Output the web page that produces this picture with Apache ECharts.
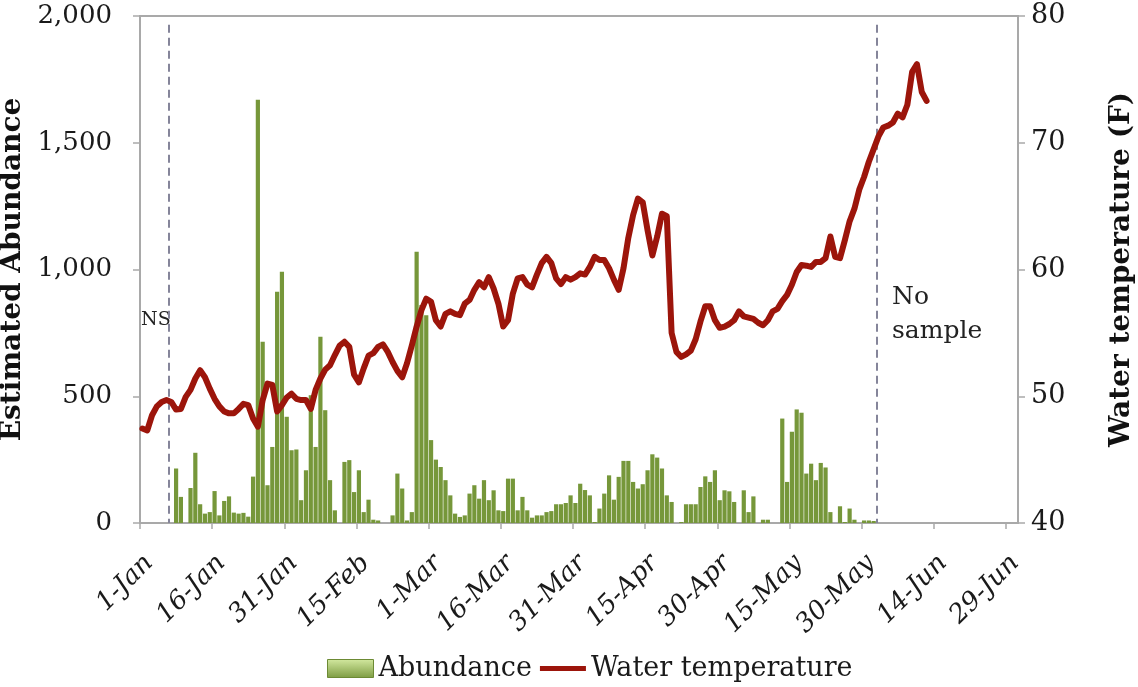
<!DOCTYPE html>
<html>
<head>
<meta charset="utf-8">
<script src="https://cdn.jsdelivr.net/npm/echarts@6/dist/echarts.min.js"></script>
<style>
  html, body { margin: 0; padding: 0; background: #fff; }
  #main { width: 1138px; height: 687px; }
</style>
</head>
<body>
<div id="main"></div>
<script>
// days counted from 1-Jan (leap year, ticks every 15 days)
const tickLabels = ['1-Jan', '16-Jan', '31-Jan', '15-Feb', '1-Mar', '16-Mar', '31-Mar',
  '15-Apr', '30-Apr', '15-May', '30-May', '14-Jun', '29-Jun'];

// abundance, one value per day starting on day 7 (8-Jan)
const abundanceStart = 7;
const abundance = [
  215, 103, 0, 138, 277, 74, 37, 43, 126, 30,
  87, 105, 41, 37, 40, 25, 183, 1670, 715, 149,
  300, 912, 991, 419, 287, 290, 90, 208, 504, 300,
  735, 445, 169, 50, 0, 241, 248, 122, 208, 43,
  92, 13, 10, 0, 0, 30, 195, 136, 10, 43,
  1070, 860, 820, 327, 250, 221, 169, 109, 37, 24,
  30, 116, 149, 96, 169, 90, 129, 50, 47, 175,
  175, 50, 103, 50, 21, 30, 30, 43, 47, 74,
  74, 79, 109, 79, 155, 130, 109, 4, 57, 116,
  188, 92, 182, 245, 245, 162, 136, 153, 208, 271,
  258, 215, 109, 83, 0, 4, 74, 74, 74, 142,
  184, 162, 208, 90, 129, 125, 83, 0, 129, 43,
  105, 0, 13, 13, 0, 0, 412, 162, 360, 448,
  435, 195, 234, 169, 237, 219, 43, 0, 66, 4,
  57, 13, 0, 10, 10, 8
];

// water temperature (F), one value per day starting on day 0 (1-Jan)
const temperature = [
  47.45, 47.3, 48.5, 49.2, 49.55, 49.7, 49.55, 48.95, 49.0, 49.95,
  50.5, 51.4, 52.05, 51.5, 50.6, 49.8, 49.2, 48.8, 48.65, 48.65,
  49.0, 49.4, 49.3, 48.25, 47.6, 49.7, 51.0, 50.9, 48.8, 49.3,
  49.9, 50.2, 49.8, 49.7, 49.7, 49.0, 50.5, 51.4, 52.1, 52.45,
  53.25, 54.0, 54.3, 53.9, 51.7, 51.1, 52.2, 53.2, 53.4, 53.9,
  54.1, 53.5, 52.7, 52.0, 51.5, 52.6, 54.0, 55.5, 56.8, 57.7,
  57.45, 56.0, 55.5, 56.5, 56.7, 56.5, 56.4, 57.3, 57.6, 58.4,
  59.0, 58.6, 59.4, 58.5, 57.3, 55.5, 56.0, 58.1, 59.3, 59.4,
  58.8, 58.6, 59.6, 60.5, 61.0, 60.5, 59.3, 58.85, 59.4, 59.2,
  59.4, 59.7, 59.6, 60.2, 61.0, 60.75, 60.75, 60.1, 59.2, 58.4,
  60.1, 62.5, 64.3, 65.6, 65.3, 63.1, 61.1, 62.6, 64.4, 64.2,
  55.0, 53.5, 53.1, 53.3, 53.6, 54.5, 55.9, 57.1, 57.1, 56.0,
  55.4, 55.5, 55.7, 56.0, 56.7, 56.3, 56.2, 56.1, 55.8, 55.6,
  56.0, 56.7, 56.9, 57.5, 58.0, 58.8, 59.8, 60.35, 60.3, 60.2,
  60.6, 60.6, 60.9, 62.6, 61.0, 60.9, 62.3, 63.8, 64.8, 66.3,
  67.3, 68.5, 69.5, 70.5, 71.2, 71.35, 71.6, 72.3, 72.0, 73.0,
  75.6, 76.2, 74.0, 73.3
];

// dashed "no sample" markers (day positions)
const nsDay = 6.0;
const noSampleDay = 153.2;

const serif = 'DejaVu Serif';
const frameColor = '#a9a9a9';
const barColor = '#76973a';
const lineColor = '#9c150b';

// each daily value sits in the middle of its day slot
const barData = abundance.map((v, i) => [abundanceStart + i + 0.5, v]);
const lineData = temperature.map((v, i) => [i + 0.5, v]);

const chart = echarts.init(document.getElementById('main'), null, { renderer: 'canvas' });

const option = {
  backgroundColor: '#ffffff',
  animation: false,
  grid: {
    left: 140, right: 120, top: 16, bottom: 164,
    outerBoundsMode: 'none',
    show: true, borderColor: frameColor, borderWidth: 2, backgroundColor: 'transparent'
  },
  legend: {
    left: 322, top: 650,
    itemWidth: 46, itemHeight: 18, itemGap: 8,
    textStyle: { fontFamily: serif, fontSize: 27, color: '#1a1a1a' },
    data: [
      {
        name: 'Abundance', icon: 'rect',
        itemStyle: {
          color: new echarts.graphic.LinearGradient(0, 0, 0, 1, [
            { offset: 0, color: '#d3e9a0' }, { offset: 1, color: '#7d9c42' }
          ]),
          borderColor: '#6c8a34', borderWidth: 1
        }
      },
      { name: 'Water temperature', icon: 'path://M0,0H24V2.6H0Z', itemStyle: { color: lineColor } }
    ]
  },
  xAxis: {
    type: 'value',
    min: 0, max: 182.5, interval: 15,
    splitLine: { show: false },
    axisLine: { lineStyle: { color: frameColor, width: 2 } },
    axisTick: { length: 6, lineStyle: { color: frameColor, width: 1.5 } },
    axisLabel: {
      rotate: 45, margin: 27, verticalAlign: 'top',
      showMaxLabel: false,
      fontFamily: serif, fontStyle: 'italic', fontSize: 26, color: '#1a1a1a',
      formatter: function (v) {
        const k = Math.round(v / 15);
        return (Math.abs(v - k * 15) < 1e-6 && tickLabels[k]) ? tickLabels[k] : '';
      }
    }
  },
  yAxis: [
    {
      type: 'value', min: 0, max: 2000, interval: 500,
      name: 'Estimated Abundance', nameLocation: 'middle', nameGap: 98, nameRotate: 90,
      nameTextStyle: { fontFamily: serif, fontWeight: 'bold', fontSize: 28, color: '#111' },
      splitLine: { show: false },
      axisLine: { show: true, lineStyle: { color: frameColor, width: 2 } },
      axisTick: { show: true, length: 7, lineStyle: { color: frameColor, width: 1.5 } },
      axisLabel: {
        margin: 28, fontFamily: serif, fontSize: 26, color: '#1a1a1a',
        formatter: v => v.toLocaleString('en-US')
      }
    },
    {
      type: 'value', min: 40, max: 80, interval: 10, position: 'right',
      name: 'Water temperature (F)', nameLocation: 'middle', nameGap: 90, nameRotate: 90,
      nameTextStyle: { fontFamily: serif, fontWeight: 'bold', fontSize: 28, color: '#111' },
      splitLine: { show: false },
      axisLine: { show: true, lineStyle: { color: frameColor, width: 2 } },
      axisTick: { show: true, length: 7, lineStyle: { color: frameColor, width: 1.5 } },
      axisLabel: { margin: 13, fontFamily: serif, fontSize: 27, color: '#1a1a1a' }
    }
  ],
  graphic: [
    {
      type: 'text', left: 141, top: 311, silent: true,
      style: { text: 'NS', fontFamily: serif, fontSize: 19, fill: '#222' }
    },
    {
      type: 'text', left: 892, top: 280, silent: true,
      style: { text: 'No\nsample', fontFamily: serif, fontSize: 25, lineHeight: 34, fill: '#222' }
    }
  ],
  series: [
    {
      name: 'Abundance',
      type: 'bar',
      yAxisIndex: 0,
      barWidth: 4.2,
      itemStyle: { color: barColor },
      data: barData,
      markLine: {
        silent: true,
        symbol: ['none', 'none'],
        label: { show: false },
        lineStyle: { color: '#85859a', type: [8, 5], width: 2 },
        data: [
          [{ coord: [nsDay, 1965] }, { coord: [nsDay, 0] }],
          [{ coord: [noSampleDay, 1965] }, { coord: [noSampleDay, 0] }]
        ]
      }
    },
    {
      name: 'Water temperature',
      type: 'line',
      yAxisIndex: 1,
      symbol: 'none',
      showSymbol: false,
      z: 5,
      lineStyle: { color: lineColor, width: 6, join: 'round', cap: 'round' },
      itemStyle: { color: lineColor },
      data: lineData
    }
  ]
};

chart.setOption(option);
</script>
</body>
</html>
